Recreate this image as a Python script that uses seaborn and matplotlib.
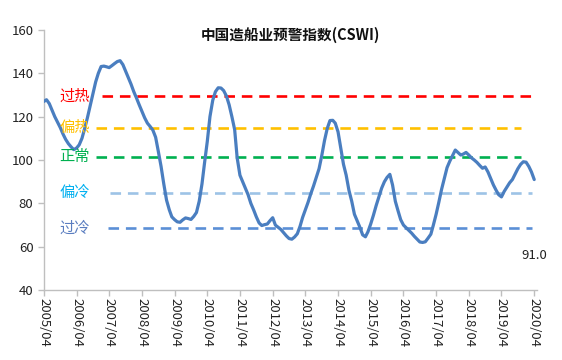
import numpy as np
import pandas as pd
import matplotlib
matplotlib.use("Agg")
import matplotlib.pyplot as plt
import matplotlib.dates as mdates
import seaborn as sns

# CSWI monthly values, 2005/04 .. 2020/04
CSWI = [
    127.0, 127.8, 126.0, 123.0, 120.0, 117.5, 115.0, 112.0, 109.5, 107.5, 106.0, 104.8,   # 2005/04-
    105.5, 107.0, 110.0, 114.5, 119.5, 125.0, 130.5, 136.0, 140.0, 143.1, 143.3, 143.0,   # 2006/04-
    142.6, 143.5, 144.5, 145.4, 145.8, 144.0, 141.0, 138.0, 135.0, 131.5, 128.5, 125.5,   # 2007/04-
    122.5, 119.5, 117.0, 115.5, 113.8, 110.5, 104.0, 97.0, 89.0, 81.5, 77.0, 73.8,        # 2008/04-
    72.5, 71.5, 71.3, 72.4, 73.3, 73.0, 72.6, 74.0, 75.8, 81.0, 89.0, 98.5,               # 2009/04-
    108.5, 120.0, 127.5, 131.5, 133.3, 133.2, 132.0, 129.5, 125.5, 120.0, 114.0, 101.0,   # 2010/04-
    93.0, 90.0, 87.0, 84.0, 80.0, 77.0, 73.8, 71.0, 69.8, 70.2, 70.5, 72.0,               # 2011/04-
    73.4, 70.0, 69.0, 68.0, 66.5, 65.0, 63.8, 63.5, 64.5, 66.0, 69.5, 73.5,               # 2012/04-
    77.0, 80.5, 84.5, 88.0, 92.0, 96.0, 102.0, 109.0, 114.5, 118.2, 118.3, 117.0,         # 2013/04-
    113.0, 105.5, 98.0, 93.0, 86.0, 81.0, 75.0, 72.0, 69.0, 65.5, 64.6, 66.9,             # 2014/04-
    70.5, 74.5, 79.0, 83.0, 87.0, 90.0, 92.0, 93.4, 88.5, 81.0, 76.5, 72.5,               # 2015/04-
    70.0, 68.8, 67.5, 66.3, 64.8, 63.5, 62.2, 62.0, 62.3, 64.0, 65.8, 70.0,               # 2016/04-
    75.0, 80.5, 86.5, 91.5, 96.5, 99.5, 102.0, 104.6, 103.5, 102.3, 102.8, 103.5,         # 2017/04-
    102.3, 101.0, 100.0, 98.9, 97.5, 96.2, 96.8, 94.5, 91.5, 88.5, 86.0, 84.0,            # 2018/04-
    83.0, 85.5, 87.5, 89.5, 91.0, 93.5, 96.0, 98.0, 99.2, 99.0, 97.0, 94.5,               # 2019/04-
    91.0,                                                                                 # 2020/04
]
START = "2005-04-01"

# warning bands
BAND_NAMES = ["过热", "偏热", "正常", "偏冷", "过冷"]
BAND_VALUES = [129.3, 114.9, 101.4, 84.9, 68.6]
BAND_FROM = ["2007-01-15", "2006-11-01", "2006-11-10", "2007-04-05", "2007-03-20"]
BAND_TO = ["2020-03-10", "2019-11-05", "2019-11-05", "2020-03-10", "2020-03-10"]
BAND_LINE_COLORS = ["#FF0000", "#FFC000", "#00B050", "#9DC3E6", "#5B8FD6"]
BAND_TEXT_COLORS = ["#FF0000", "#FFC000", "#00B050", "#00B0F0", "#5A7DC0"]

dates = pd.date_range(START, periods=len(CSWI), freq="MS")
df = pd.DataFrame({"date": dates, "cswi": CSWI})

sns.set_style("white")
plt.rcParams["font.family"] = ["Noto Sans CJK SC", "DejaVu Sans"]

fig = plt.figure(figsize=(5.62, 3.6), dpi=100)
ax = fig.add_axes([0.078, 0.194, 0.878, 0.723])

# band lines first, index line on top
for name, val, d0, d1, lc, tc in zip(BAND_NAMES, BAND_VALUES, BAND_FROM, BAND_TO,
                                      BAND_LINE_COLORS, BAND_TEXT_COLORS):
    ax.plot([pd.Timestamp(d0), pd.Timestamp(d1)], [val, val], color=lc,
            linewidth=1.9, linestyle=(0, (4, 2.6)), zorder=2)
    ax.text(pd.Timestamp("2006-03-10"), val, name, color=tc, fontsize=11,
            ha="center", va="center", zorder=4)

sns.lineplot(data=df, x="date", y="cswi", ax=ax, color="#4A7EC0",
             linewidth=2.3, zorder=3)

ax.text(dates[-1], 56, f"{CSWI[-1]:.1f}", ha="center", va="center",
        fontsize=9.5, color="#222222")

ax.text(0.5, 1.01, "中国造船业预警指数(CSWI)", transform=ax.transAxes,
        ha="center", va="top", fontsize=10.5, fontweight="bold", color="#111111")

ax.set_ylim(40, 160)
ax.set_yticks(range(40, 161, 20))
ax.set_xlim(pd.Timestamp("2005-04-01"), pd.Timestamp("2020-05-05"))
ax.set_xticks(pd.date_range("2005-04-01", "2020-04-01", freq="12MS"))
ax.xaxis.set_major_formatter(mdates.DateFormatter("%Y/%m"))
plt.setp(ax.get_xticklabels(), rotation=-90)

ax.set_xlabel("")
ax.set_ylabel("")
for side in ["top", "right"]:
    ax.spines[side].set_visible(False)
for side in ["left", "bottom"]:
    ax.spines[side].set_color("#BFBFBF")
    ax.spines[side].set_linewidth(1.0)
ax.tick_params(axis="both", direction="out", length=4, width=1.0,
               color="#BFBFBF", labelsize=9.5, labelcolor="#222222",
               bottom=True, left=True)
ax.tick_params(axis="x", pad=2)

fig.savefig("out.png", dpi=100)
